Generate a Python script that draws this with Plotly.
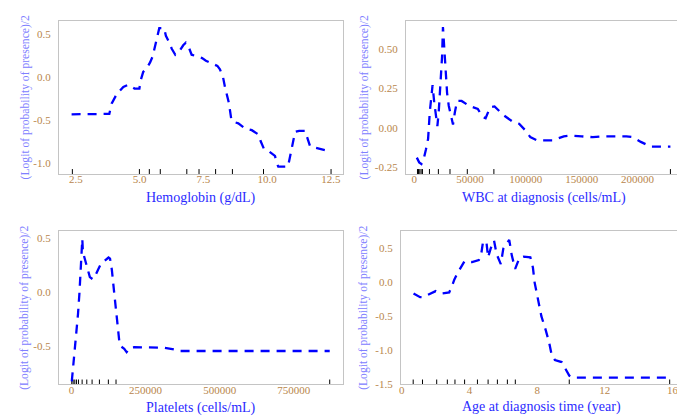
import plotly.graph_objects as go

# ---------------- data ----------------
hb_x = [2.33, 3.81, 3.90, 4.10, 4.36, 4.55, 4.80, 4.99, 5.04, 5.14, 5.27, 5.41, 5.51, 5.60, 5.69,
        5.77, 5.96, 6.03, 6.13, 6.26, 6.40, 6.56, 6.71, 6.81, 6.91, 7.04, 7.20, 7.45, 7.60, 7.90,
        8.05, 8.15, 8.27, 8.35, 8.50, 8.60, 8.66, 8.87, 9.14, 9.40, 9.66, 9.75, 9.88, 10.09, 10.31,
        10.38, 10.44, 10.82, 10.88, 11.00, 11.10, 11.26, 11.49, 11.57, 11.69, 11.96, 12.28, 12.51]
hb_y = [-0.435, -0.43, -0.31, -0.20, -0.115, -0.09, -0.135, -0.135, -0.04, 0.06, 0.10, 0.17, 0.24,
        0.365, 0.48, 0.57, 0.57, 0.48, 0.42, 0.33, 0.26, 0.30, 0.37, 0.40, 0.36, 0.26, 0.245, 0.22,
        0.19, 0.155, 0.13, 0.09, 0.0, -0.12, -0.30, -0.50, -0.52, -0.54, -0.60, -0.62, -0.67, -0.75,
        -0.84, -0.87, -0.92, -1.0, -1.046, -1.046, -0.96, -0.76, -0.64, -0.627, -0.627, -0.70, -0.81,
        -0.83, -0.855, -0.86]
hb_rug = [2.36, 4.99, 5.38, 5.81, 6.85, 7.33, 7.98, 8.64, 9.86, 12.51]

wbc_x = [2400, 4500, 6500, 8500, 10500, 12500, 14000, 16500, 18000, 19500, 20800, 22000, 23500,
         25000, 25800, 27000, 28300, 29500, 31000, 34800, 36500, 38500, 42500, 49000, 57000, 61000,
         64000, 68000, 72000, 80000, 88000, 94000, 100000, 104000, 110000, 124000, 134000, 140000,
         150000, 160000, 170000, 190000, 196000, 203000, 212000, 229500]
wbc_y = [-0.19, -0.22, -0.23, -0.20, -0.14, -0.07, 0.10, 0.27, 0.16, 0.08, 0.01, 0.10, 0.25, 0.45,
         0.64, 0.52, 0.35, 0.22, 0.14, 0.02, 0.10, 0.17, 0.17, 0.14, 0.12, 0.07, 0.06, 0.13, 0.135,
         0.08, 0.04, 0.025, -0.02, -0.06, -0.08, -0.08, -0.055, -0.05, -0.055, -0.06, -0.055, -0.055,
         -0.06, -0.09, -0.12, -0.12]
wbc_rug = [2980, 3870, 5060, 6250, 7440, 13700, 21700, 32100, 47600, 71400, 229500]

plt_x = [1000, 7000, 16000, 22000, 27000, 31500, 35000, 36500, 38500, 49000, 56000, 62000, 72000,
         78000, 90000, 100000, 112000, 125000, 130000, 136000, 142000, 150000, 156000, 162000,
         168000, 178000, 186000, 197000, 212000, 260000, 310000, 345000, 365000, 871000]
plt_y = [-0.82, -0.65, -0.40, -0.20, 0.0, 0.22, 0.48, 0.49, 0.37, 0.27, 0.18, 0.14, 0.12, 0.14,
         0.21, 0.265, 0.29, 0.32, 0.31, 0.21, 0.05, -0.16, -0.37, -0.47, -0.50, -0.52, -0.55, -0.51,
         -0.505, -0.505, -0.51, -0.525, -0.54, -0.54]
plt_rug = [1000, 5600, 11200, 16800, 23500, 35900, 51600, 69500, 94200, 124400, 150200, 871000]

age_x = [0.69, 1.08, 1.25, 1.50, 2.00, 2.30, 2.80, 3.00, 3.10, 3.30, 3.55, 3.70, 4.15, 4.55, 4.70,
         4.80, 5.00, 5.10, 5.25, 5.45, 5.60, 5.85, 6.00, 6.35, 6.50, 6.70, 6.95, 7.20, 7.60, 7.75,
         7.85, 8.00, 8.25, 8.50, 8.70, 8.85, 9.05, 9.45, 9.65, 9.90, 10.10, 15.84]
age_y = [-0.165, -0.22, -0.22, -0.19, -0.13, -0.165, -0.15, -0.03, 0.04, 0.14, 0.25, 0.31, 0.30,
         0.33, 0.43, 0.60, 0.60, 0.37, 0.50, 0.62, 0.42, 0.27, 0.50, 0.63, 0.40, 0.20, 0.36, 0.38,
         0.37, 0.22, 0.0, -0.20, -0.50, -0.70, -0.88, -1.06, -1.15, -1.18, -1.27, -1.38, -1.41, -1.41]
age_rug = [0.67, 1.22, 2.06, 2.69, 3.14, 3.71, 4.47, 5.10, 5.65, 6.24, 6.71, 9.90, 15.84]

hb_ticks = [2.5, 5.0, 7.5, 10.0, 12.5]
hb_ticklabels = ["2.5", "5.0", "7.5", "10.0", "12.5"]
hb_yticks = [0.5, 0.0, -0.5, -1.0]
hb_yticklabels = ["0.5", "0.0", "-0.5", "-1.0"]

wbc_ticks = [0, 50000, 100000, 150000, 200000]
wbc_ticklabels = ["0", "50000", "100000", "150000", "200000"]
wbc_yticks = [0.5, 0.25, 0.0, -0.25]
wbc_yticklabels = ["0.50", "0.25", "0.00", "-0.25"]

plt_ticks = [0, 250000, 500000, 750000]
plt_ticklabels = ["0", "250000", "500000", "750000"]
plt_yticks = [0.5, 0.0, -0.5]
plt_yticklabels = ["0.5", "0.0", "-0.5"]

age_ticks = [0, 4, 8, 12, 16]
age_ticklabels = ["0", "4", "8", "12", "16"]
age_yticks = [0.5, 0.0, -0.5, -1.0, -1.5]
age_yticklabels = ["0.5", "0.0", "-0.5", "-1.0", "-1.5"]

x_titles = ["Hemoglobin (g/dL)", "WBC at diagnosis (cells/mL)",
            "Platelets (cells/mL)", "Age at diagnosis time (year)"]
y_title = "(Logit of probability of presence)/2"

# ---------------- layout / style ----------------
W, H = 685, 420
FONT = "Liberation Serif"
TICK_COLOR = "#b8864b"
XTITLE_COLOR = "#2b2bff"
YTITLE_COLOR = "#8080ff"
FRAME = "#c4c4c4"

panels = [
    dict(x=hb_x, y=hb_y, rug=hb_rug, box=(49, 334, 13, 168), xr=[1.83, 12.98], yr=[-1.131, 0.655],
         xt=hb_ticks, xtl=hb_ticklabels, yt=hb_yticks, ytl=hb_yticklabels, xty=192, ytx=15),
    dict(x=wbc_x, y=wbc_y, rug=wbc_rug, box=(397, 674, 13, 168), xr=[-7440, 239900], yr=[-0.294, 0.679],
         xt=wbc_ticks, xtl=wbc_ticklabels, yt=wbc_yticks, ytl=wbc_yticklabels, xty=192, ytx=355),
    dict(x=plt_x, y=plt_y, rug=plt_rug, box=(49, 334, 226, 381), xr=[-42600, 915900], yr=[-0.848, 0.561],
         xt=plt_ticks, xtl=plt_ticklabels, yt=plt_yticks, ytl=plt_yticklabels, xty=405, ytx=15),
    dict(x=age_x, y=age_y, rug=age_rug, box=(392, 674, 226, 381), xr=[-0.06, 16.57], yr=[-1.512, 0.756],
         xt=age_ticks, xtl=age_ticklabels, yt=age_yticks, ytl=age_yticklabels, xty=404, ytx=355),
]

fig = go.Figure()
annotations = []
layout = {}
for i, p in enumerate(panels):
    n = "" if i == 0 else str(i + 1)
    xa, ya = "x" + n, "y" + n
    x0, x1, y0, y1 = p["box"]
    # rug ticks (short vertical marks on the bottom axis)
    ylen = 5.0 / (y1 - y0) * (p["yr"][1] - p["yr"][0])
    rx, ry = [], []
    for v in p["rug"]:
        rx += [v, v, None]
        ry += [p["yr"][0], p["yr"][0] + ylen, None]
    fig.add_trace(go.Scatter(x=rx, y=ry, mode="lines", xaxis=xa, yaxis=ya,
                             line=dict(color="black", width=1), hoverinfo="skip", showlegend=False))
    fig.add_trace(go.Scatter(x=p["x"], y=p["y"], mode="lines", xaxis=xa, yaxis=ya,
                             line=dict(color="#0000ff", width=2.3, dash="9px,7px"), showlegend=False))
    common = dict(showgrid=False, zeroline=False, showline=True, mirror=True, linecolor=FRAME,
                  linewidth=1, ticks="", tickfont=dict(family=FONT, size=11, color=TICK_COLOR))
    layout["xaxis" + n] = dict(common, domain=[x0 / W, x1 / W], range=p["xr"], anchor=ya,
                               tickmode="array", tickvals=p["xt"], ticktext=p["xtl"],
                               ticklabelstandoff=-5)
    layout["yaxis" + n] = dict(common, domain=[1 - y1 / H, 1 - y0 / H], range=p["yr"], anchor=xa,
                               tickmode="array", tickvals=p["yt"], ticktext=p["ytl"],
                               ticklabelstandoff=5)
    annotations.append(dict(text=x_titles[i], xref="paper", yref="paper", x=(x0 + x1) / 2 / W,
                            y=1 - p["xty"] / H, xanchor="center", yanchor="middle", showarrow=False,
                            font=dict(family=FONT, size=14, color=XTITLE_COLOR)))
    annotations.append(dict(text=y_title, xref="paper", yref="paper", x=p["ytx"] / W,
                            y=1 - (y0 + y1) / 2 / H, xanchor="center", yanchor="middle",
                            textangle=-90, showarrow=False,
                            font=dict(family=FONT, size=11.6, color=YTITLE_COLOR)))

fig.update_layout(width=W, height=H, margin=dict(l=0, r=0, t=0, b=0), plot_bgcolor="white",
                  paper_bgcolor="white", annotations=annotations, **layout)
fig.write_html("out.html")
